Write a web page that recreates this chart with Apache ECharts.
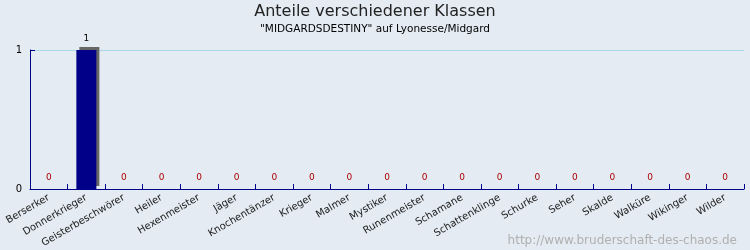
<!DOCTYPE html>
<html><head><meta charset="utf-8">
<script src="https://cdn.jsdelivr.net/npm/echarts@6/dist/echarts.min.js"></script>
<style>html,body{margin:0;padding:0;background:#e4ebf2}#c{width:750px;height:250px}</style>
</head><body><div id="c"></div>
<script>
var categories = ["Berserker","Donnerkrieger","Geisterbeschwörer","Heiler","Hexenmeister","Jäger","Knochentänzer","Krieger","Malmer","Mystiker","Runenmeister","Schamane","Schattenklinge","Schurke","Seher","Skalde","Walküre","Wikinger","Wilder"];
var values = [0,1,0,0,0,0,0,0,0,0,0,0,0,0,0,0,0,0,0];
var yTicks = [0,1];
var font = "DejaVu Sans";
var chart = echarts.init(document.getElementById('c'));
chart.setOption({
  backgroundColor: '#e4ebf2',
  animation: false,
  title: [
    {text: 'Anteile verschiedener Klassen', left: 'center', top: -1, textStyle: {fontFamily: font, fontSize: 16, fontWeight: 'normal', color: '#222'}},
    {text: '"MIDGARDSDESTINY" auf Lyonesse/Midgard', left: 'center', top: 19, textStyle: {fontFamily: font, fontSize: 10.5, fontWeight: 'normal', color: '#000'}},
    {text: 'http://www.bruderschaft-des-chaos.de', right: 8, top: 230, textStyle: {fontFamily: font, fontSize: 12, fontWeight: 'normal', color: '#b0b0b0'}}
  ],
  grid: {left: 30, right: 6, top: 50, bottom: 61},
  xAxis: {
    type: 'category', data: categories,
    axisLine: {show: true, lineStyle: {color: '#00008b', width: 1}},
    axisTick: {show: true, inside: true, length: 5, interval: 0, lineStyle: {color: '#00008b', width: 1}},
    axisLabel: {rotate: 30, fontFamily: font, fontSize: 10, color: '#222', interval: 0, margin: 8}
  },
  yAxis: {
    type: 'value', min: 0, max: 1, interval: 1,
    axisLine: {show: true, lineStyle: {color: '#00008b'}},
    axisTick: {show: true, inside: true, length: 5, lineStyle: {color: '#00008b'}},
    axisLabel: {fontFamily: font, fontSize: 10, color: '#000', margin: 8,
      formatter: function(v){ return yTicks.indexOf(v) >= 0 ? String(v) : ''; }},
    splitLine: {show: true, lineStyle: {color: '#a8d8e8', width: 1}}
  },
  series: [{
    type: 'bar', barWidth: 20,
    data: values.map(function(v){ return {value: v, label: {color: v === 0 ? '#aa0000' : '#000'}}; }),
    itemStyle: {color: '#000088', shadowColor: '#666', shadowOffsetX: 3, shadowOffsetY: -3, shadowBlur: 0},
    label: {show: true, position: 'top', distance: 7, fontFamily: font, fontSize: 9}
  }]
});
</script></body></html>
